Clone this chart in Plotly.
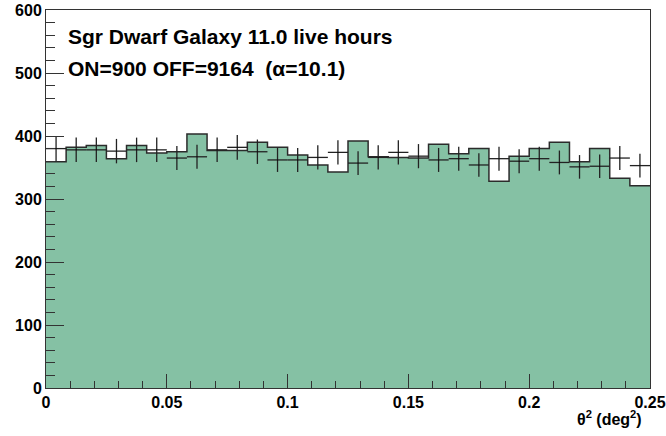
import numpy as np
import plotly.graph_objects as go

# theta^2 histogram, 30 bins over 0 - 0.25 deg^2
n_bins = 30
theta2_min, theta2_max = 0.0, 0.25

# OFF counts scaled by 1/alpha (filled histogram)
off_scaled = [359, 382, 385, 364, 385, 373, 375, 403, 377, 377,
              390, 382, 370, 354, 343, 392, 367, 366, 365, 387,
              372, 380, 328, 368, 380, 390, 359, 380, 333, 321]

# ON counts (crosses)
on_counts = [380, 378, 378, 376, 378, 378, 365, 367, 378, 382,
             375, 362, 362, 366, 374, 357, 366, 374, 368, 362,
             364, 354, 364, 360, 364, 358, 351, 352, 365, 353]

edges = np.linspace(theta2_min, theta2_max, n_bins + 1)
centers = 0.5 * (edges[:-1] + edges[1:])
half_w = 0.5 * (edges[1] - edges[0])

fig = go.Figure()

# ----- filled OFF histogram (step outline) -----
fig.add_trace(
    go.Scatter(
        x=edges,
        y=off_scaled + [off_scaled[-1]],
        mode="lines",
        line=dict(shape="hv", color="#2b2b2b", width=1.5),
        fill="tozeroy",
        fillcolor="#85c1a4",
        hoverinfo="skip",
        showlegend=False,
    )
)

# ----- ON data crosses -----
fig.add_trace(
    go.Scatter(
        x=centers,
        y=on_counts,
        mode="markers",
        marker=dict(size=1, color="black"),
        error_y=dict(type="data", array=np.sqrt(on_counts), color="#222", thickness=1.3, width=0),
        error_x=dict(type="data", array=[half_w] * n_bins, color="#222", thickness=1.3, width=0),
        showlegend=False,
    )
)

tick_font = dict(family="Liberation Sans, Arial, sans-serif", size=16, color="black", weight="bold")

fig.update_xaxes(
    range=[theta2_min, theta2_max],
    dtick=0.05,
    tickformat="~g",
    ticks="inside",
    ticklen=14,
    tickcolor="#333",
    tickfont=tick_font,
    showgrid=False,
    zeroline=False,
    showline=True,
    linecolor="#333",
    linewidth=1,
    mirror=True,
    automargin=False,
    minor=dict(ticks="inside", dtick=0.01, ticklen=7, tickcolor="#333"),
)

fig.update_yaxes(
    range=[0, 600],
    dtick=100,
    ticks="inside",
    ticklen=18,
    tickcolor="#333",
    tickfont=tick_font,
    showgrid=False,
    zeroline=False,
    showline=True,
    linecolor="#333",
    linewidth=1,
    mirror=True,
    automargin=False,
    minor=dict(ticks="inside", dtick=20, ticklen=9, tickcolor="#333"),
)

text_font = dict(family="Liberation Sans, Arial, sans-serif", size=21, color="black")
fig.add_annotation(
    text="<b>Sgr Dwarf Galaxy 11.0 live hours</b>",
    xref="paper", yref="paper", x=0.033, y=0.931,
    xanchor="left", yanchor="middle", showarrow=False, font=text_font,
)
fig.add_annotation(
    text="<b>ON=900 OFF=9164  (α=10.1)</b>",
    xref="paper", yref="paper", x=0.033, y=0.844,
    xanchor="left", yanchor="middle", showarrow=False, font=text_font,
)
fig.add_annotation(
    text="<b>θ<sup>2</sup> (deg<sup>2</sup>)</b>",
    xref="paper", yref="paper", x=0.99, y=-0.08,
    xanchor="right", yanchor="middle", showarrow=False,
    font=dict(family="Liberation Sans, Arial, sans-serif", size=16, color="black"),
)

fig.update_layout(
    width=666,
    height=436,
    margin=dict(l=46, r=16, t=10, b=48),
    paper_bgcolor="white",
    plot_bgcolor="white",
    showlegend=False,
)

# drop the default page margin so the figure fills the window exactly
fig.write_html(
    "out.html",
    config={"displayModeBar": False},
    post_script="document.body.style.margin='0';",
)
